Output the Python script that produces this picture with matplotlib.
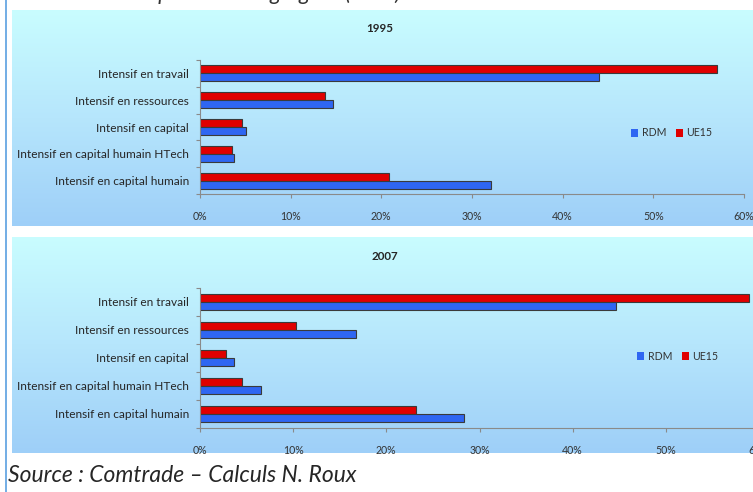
import matplotlib
matplotlib.use("Agg")
import matplotlib.pyplot as plt
import numpy as np
from matplotlib.patches import Patch
from matplotlib.lines import Line2D
from matplotlib.colors import LinearSegmentedColormap

plt.rcParams['font.family'] = ['Lato', 'DejaVu Sans']

categories = ["Intensif en travail", "Intensif en ressources", "Intensif en capital",
              "Intensif en capital humain HTech", "Intensif en capital humain"]

rdm_1995 = [44.0, 14.7, 5.1, 3.7, 32.1]
ue15_1995 = [57.0, 13.8, 4.6, 3.5, 20.9]

rdm_2007 = [44.6, 16.7, 3.7, 6.6, 28.3]
ue15_2007 = [58.9, 10.3, 2.8, 4.5, 23.2]

x_ticks = [0, 10, 20, 30, 40, 50, 60]

W, H = 753, 492
fig = plt.figure(figsize=(W / 100, H / 100), dpi=100)
fig.patch.set_facecolor("white")

bg_cmap = LinearSegmentedColormap.from_list("bg", ["#c9fdff", "#b6e6fc", "#9ecff8"])
blue = "#2f66f2"
red = "#e00000"


def frac(x0, y0, x1, y1):
    # pixel box (top-left origin) -> figure fraction rect
    return [x0 / W, 1 - y1 / H, (x1 - x0) / W, (y1 - y0) / H]


def panel(bg_box, ax_box, title, title_xy, rdm, ue15, legend_xy):
    bg = fig.add_axes(frac(*bg_box))
    grad = np.linspace(0, 1, 256).reshape(-1, 1)
    bg.imshow(grad, aspect="auto", cmap=bg_cmap, extent=[0, 1, 0, 1])
    bg.axis("off")

    ax = fig.add_axes(frac(*ax_box))
    ax.patch.set_alpha(0)
    pos = np.arange(len(categories))[::-1]
    ax.barh(pos + 0.15, ue15, height=0.3, color=red, edgecolor="#3a3a3a",
            linewidth=0.8, label="UE15")
    ax.barh(pos - 0.15, rdm, height=0.3, color=blue, edgecolor="#3a3a3a",
            linewidth=0.8, label="RDM")
    ax.set_xlim(0, 60)
    ax.set_ylim(-0.5, len(categories) - 0.5)

    ax.set_yticks(pos)
    ax.set_yticklabels(categories, fontsize=8.6, color="#262626")
    ax.set_yticks(np.arange(-0.5, len(categories)), minor=True)
    ax.tick_params(axis="y", which="major", length=0, pad=8)
    ax.tick_params(axis="y", which="minor", length=3, color="#8a8a8a", width=0.8)

    ax.set_xticks(x_ticks)
    ax.set_xticklabels([f"{v}%" for v in x_ticks], fontsize=7.6, color="#333333")
    ax.tick_params(axis="x", length=3, color="#8a8a8a", width=0.8, pad=9)

    for side in ["top", "right"]:
        ax.spines[side].set_visible(False)
    for side in ["left", "bottom"]:
        ax.spines[side].set_color("#8a8a8a")
        ax.spines[side].set_linewidth(0.8)

    fig.text(title_xy[0] / W, 1 - title_xy[1] / H, title, ha="center", va="center",
             fontsize=8.4, fontweight="bold", color="#262626")

    handles = [Patch(facecolor=blue, edgecolor="none", label="RDM"),
               Patch(facecolor=red, edgecolor="none", label="UE15")]
    fig.legend(handles=handles, loc="center left", ncol=2, frameon=False,
               bbox_to_anchor=(legend_xy[0] / W, 1 - legend_xy[1] / H),
               fontsize=7.6, handlelength=0.7, handleheight=0.8, handletextpad=0.3,
               columnspacing=0.9, borderpad=0, borderaxespad=0,
               labelcolor="#333333")
    return ax


panel((12, 10, 753, 226), (200, 60, 744, 194), "1995", (380, 28),
      rdm_1995, ue15_1995, (631, 133))
panel((12, 237, 753, 453), (200, 288, 759, 428), "2007", (385, 256),
      rdm_2007, ue15_2007, (637, 356))

# left border rule and surrounding text
fig.add_artist(Line2D([6 / W, 6 / W], [0, 1], color="#5a9fe0", linewidth=1.2))
fig.text(9 / W, 1 - 0.5 / H, "Structure des exportations agrégées (en %)",
         ha="left", va="baseline", fontsize=16, style="italic", color="#333333")
fig.text(8 / W, 1 - 475 / H, "Source : Comtrade \u2013 Calculs N. Roux",
         ha="left", va="center", fontsize=16.5, style="italic", color="#262626")

fig.savefig("out.png", dpi=100)
